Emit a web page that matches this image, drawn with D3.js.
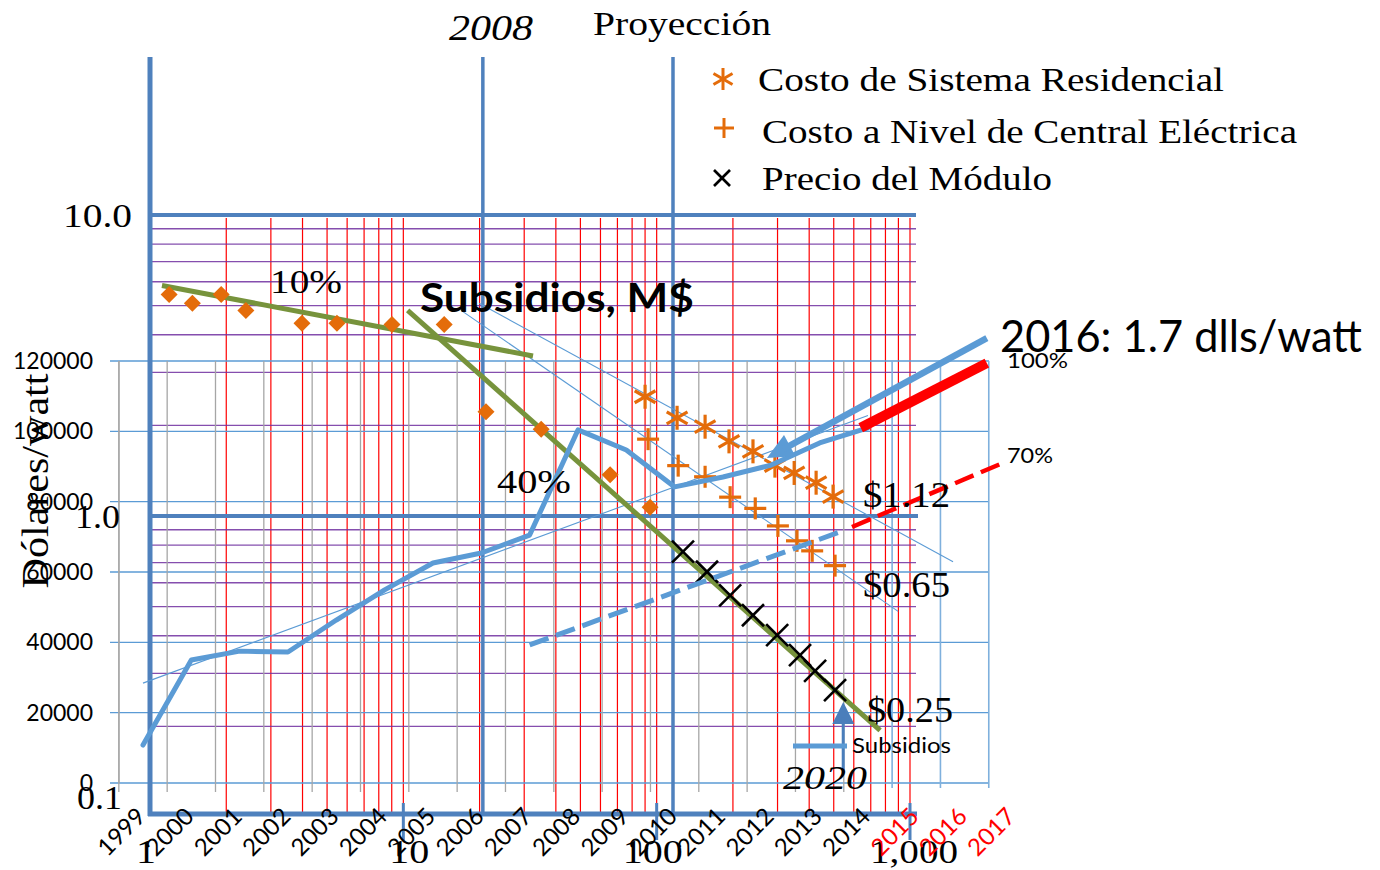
<!DOCTYPE html>
<html lang="es">
  <head>
    <meta charset="utf-8" />
    <script src="https://d3js.org/d3.v7.min.js"></script>
    <style>
      body { margin: 0; background: #fff; }
      svg { display: block; }
    </style>
  </head>
  <body>
    <script>
      // ---------- datos: curva de aprendizaje (log-log) ----------
      // capacidad acumulada (eje x log) y dólares/watt (eje y log)
      var historicoCap = [1.19, 1.47, 1.91, 2.39, 3.98, 5.47, 9.02, 14.5, 21.2, 35.0, 65.5, 94.2];
      var historicoPrecio = [5.44, 5.09, 5.44, 4.82, 4.37, 4.37, 4.33, 4.33, 2.22, 1.94, 1.37, 1.07];
      var residencialCap = [90.0, 120.4, 155.3, 193, 240, 293, 349, 426, 497];
      var residencialCosto = [2.49, 2.12, 1.98, 1.77, 1.64, 1.47, 1.39, 1.29, 1.16];
      var centralCap = [92.5, 121.6, 155.3, 195, 245, 301, 358, 411, 506];
      var centralCosto = [1.8, 1.47, 1.35, 1.155, 1.06, 0.927, 0.827, 0.766, 0.684];
      var moduloCap = [127, 158, 195, 240, 299, 368, 422, 506];
      var moduloPrecio = [0.761, 0.653, 0.545, 0.468, 0.402, 0.345, 0.306, 0.264];

      var logXTicks = [1, 10, 100, 1000];
      var logXLabels = ["1", "10", "100", "1,000"];
      var logYTicks = [0.1, 1, 10];
      var logYLabels = ["0.1", "1.0", "10.0"];

      // rectas de aprendizaje y tendencias (extremos)
      var recta10 = [[1.115, 5.83], [32.5, 3.4]];
      var recta40 = [[10.4, 4.82], [762, 0.194]];
      var tendenciaA = [[19.9, 5.09], [1479, 0.705]];
      var tendenciaB = [[16.9, 4.82], [898, 0.482]];
      var marcaCap = [20.6, 116]; // 2008 y Proyección
      var flecha2020 = [[545, 0.143], [545, 0.241]];

      // ---------- datos: Subsidios, M$ ----------
      var years = d3.range(1999, 2018);
      var subYears = d3.range(1999, 2015);
      var subsidios = [10800, 35000, 37500, 37250, 46350, 54900, 62550, 65400,
                       70500, 100400, 94700, 84200, 87000, 90400, 96700, 101000];
      var subTicks = [0, 20000, 40000, 60000, 80000, 100000, 120000];
      var tendenciaSub = [[1999, 28400], [2014, 104500]];
      var proy70azul = [[2007, 39250], [2013.42, 71400]];
      var proy70rojo = [[2013.67, 72800], [2016.84, 91300]];
      var proy100 = [[2013.85, 101000], [2016.46, 119400]];
      var flecha2016 = [[2016.46, 126500], [2011.91, 92400]];

      var width = 1380,
        height = 870;
      var serif = "'Liberation Serif', 'DejaVu Serif', serif";
      var sans = "Lato, 'Open Sans', sans-serif";

      var svg = d3.select("body").append("svg")
        .attr("width", width)
        .attr("height", height);

      // scales
      var xLog = d3.scaleLog().domain([1, 1000]).range([150, 910]);
      var yLog = d3.scaleLog().domain([0.1, 10]).range([817, 215]);
      var xYear = d3.scaleLinear().domain([1999, 2017]).range([143, 143 + 18 * 48.33]);
      var yVal = d3.scaleLinear().domain([0, 120000]).range([783, 361]);

      function seg(g, x1, y1, x2, y2, color, w) {
        return g.append("line")
          .attr("x1", x1).attr("y1", y1).attr("x2", x2).attr("y2", y2)
          .attr("stroke", color).attr("stroke-width", w);
      }

      function txt(g, s, x, y, o) {
        var t = g.append("text")
          .attr("x", x).attr("y", y)
          .attr("font-family", o.font || serif)
          .attr("font-size", o.size)
          .attr("fill", o.color || "#000")
          .attr("text-anchor", o.anchor || "start")
          .text(s);
        if (o.italic) t.attr("font-style", "italic");
        if (o.bold) t.attr("font-weight", "bold");
        if (o.w) t.attr("textLength", o.w).attr("lengthAdjust", "spacingAndGlyphs");
        if (o.rotate) t.attr("transform", "rotate(" + o.rotate + "," + x + "," + y + ")");
        return t;
      }

      function arrowHead(g, p0, p1, len, wid, color) {
        var dx = p1[0] - p0[0], dy = p1[1] - p0[1];
        var L = Math.sqrt(dx * dx + dy * dy);
        var ux = dx / L, uy = dy / L;
        var bx = p1[0] - ux * len, by = p1[1] - uy * len;
        g.append("path")
          .attr("d", "M" + p1[0] + "," + p1[1] +
            "L" + (bx - uy * wid / 2) + "," + (by + ux * wid / 2) +
            "L" + (bx + uy * wid / 2) + "," + (by - ux * wid / 2) + "Z")
          .attr("fill", color);
        return [p1[0] - ux * len * 0.7, p1[1] - uy * len * 0.7];
      }

      // ---------- malla de la curva log-log ----------
      var grid = svg.append("g");
      var minorX = [];
      [1, 10, 100].forEach(function (d) {
        for (var k = 2; k <= 10; k++) minorX.push(d * k);
      });
      grid.selectAll(".rx").data(minorX).join("line")
        .attr("x1", function (d) { return xLog(d); })
        .attr("x2", function (d) { return xLog(d); })
        .attr("y1", 218).attr("y2", 813)
        .attr("stroke", "#ff0000").attr("stroke-width", 1.2);

      var minorY = [];
      [0.1, 1].forEach(function (d) {
        for (var k = 2; k <= 9; k++) minorY.push(d * k);
      });
      grid.selectAll(".py").data(minorY).join("line")
        .attr("x1", 152).attr("x2", 916)
        .attr("y1", function (d) { return yLog(d); })
        .attr("y2", function (d) { return yLog(d); })
        .attr("stroke", "#7030a0").attr("stroke-width", 1.4).attr("opacity", 0.85);

      // ---------- malla del gráfico de Subsidios ----------
      var eg = svg.append("g");
      eg.selectAll(".hg").data(subTicks).join("line")
        .attr("x1", 110).attr("x2", 989)
        .attr("y1", function (d) { return yVal(d); })
        .attr("y2", function (d) { return yVal(d); })
        .attr("stroke", "#5b9bd5").attr("stroke-width", 1.3);
      eg.selectAll(".vg").data(years).join("line")
        .attr("x1", function (d) { return xYear(d - 0.5); })
        .attr("x2", function (d) { return xYear(d - 0.5); })
        .attr("y1", 361)
        .attr("y2", function (d, i) { return i > 15 ? 788 : 792; })
        .attr("stroke", function (d, i) { return i > 15 ? "#7fb0dd" : "#a6a6a6"; })
        .attr("stroke-width", function (d, i) { return i > 15 ? 1.6 : 1.3; });
      seg(eg, 119, 361, 119, 783, "#a6a6a6", 1.3);
      eg.selectAll(".yl").data(subTicks).join("text")
        .attr("x", 93)
        .attr("y", function (d) { return yVal(d) + 8; })
        .attr("text-anchor", "end")
        .attr("font-family", sans).attr("font-size", 23)
        .text(function (d) { return d; });

      // ---------- marco azul de la curva log-log ----------
      var fr = svg.append("g");
      var frameBlue = "#4f81bd";
      seg(fr, 150, yLog(10), 916, yLog(10), frameBlue, 4);
      seg(fr, 150, yLog(1), 918, yLog(1), frameBlue, 4);
      seg(fr, 150, 57, 150, 816, frameBlue, 5);
      marcaCap.forEach(function (d) {
        seg(fr, xLog(d), 57, xLog(d), 816, frameBlue, 3.5);
      });
      seg(fr, 148, 814, 917, 814, frameBlue, 5);
      logXTicks.slice(1).forEach(function (d) {
        seg(fr, xLog(d), 803, xLog(d), 840, frameBlue, 3);
      });

      // ---------- líneas de tendencia ----------
      var lineLog = d3.line()
        .x(function (d) { return xLog(d[0]); })
        .y(function (d) { return yLog(d[1]); });
      var lineYr = d3.line()
        .x(function (d) { return xYear(d[0]); })
        .y(function (d) { return yVal(d[1]); });

      var tl = svg.append("g").attr("fill", "none");
      [tendenciaA, tendenciaB].forEach(function (d) {
        tl.append("path").attr("d", lineLog(d))
          .attr("stroke", "#5b9bd5").attr("stroke-width", 1.1);
      });
      tl.append("path").attr("d", lineYr(tendenciaSub))
        .attr("stroke", "#5b9bd5").attr("stroke-width", 1.1);

      [recta10, recta40].forEach(function (d) {
        tl.append("path").attr("d", lineLog(d))
          .attr("stroke", "#77933c").attr("stroke-width", 5);
      });

      // ---------- puntos ----------
      var pts = svg.append("g");
      var orange = "#e46c0a";
      pts.selectAll(".dia").data(historicoCap).join("path")
        .attr("d", function (d, i) {
          var x = xLog(d), y = yLog(historicoPrecio[i]), r = 8.5;
          return "M" + x + "," + (y - r) + "L" + (x + r) + "," + y +
            "L" + x + "," + (y + r) + "L" + (x - r) + "," + y + "Z";
        })
        .attr("fill", orange);

      function asterisk(g, x, y, r, color, sw) {
        [90, 30, -30].forEach(function (a) {
          var c = Math.cos(a * Math.PI / 180) * r, s = Math.sin(a * Math.PI / 180) * r;
          seg(g, x - c, y - s, x + c, y + s, color, sw);
        });
      }
      function plus(g, x, y, r, color, sw) {
        seg(g, x - r, y, x + r, y, color, sw);
        seg(g, x, y - r, x, y + r, color, sw);
      }
      function cross(g, x, y, r, color, sw) {
        seg(g, x - r, y - r, x + r, y + r, color, sw);
        seg(g, x - r, y + r, x + r, y - r, color, sw);
      }

      residencialCap.forEach(function (d, i) {
        asterisk(pts, xLog(d), yLog(residencialCosto[i]), 12, orange, 3.2);
      });
      centralCap.forEach(function (d, i) {
        plus(pts, xLog(d), yLog(centralCosto[i]), 11, orange, 3.2);
      });
      moduloCap.forEach(function (d, i) {
        cross(pts, xLog(d), yLog(moduloPrecio[i]), 11, "#000", 2.6);
      });

      // ---------- serie Subsidios y proyecciones ----------
      var sg = svg.append("g").attr("fill", "none");
      sg.append("path")
        .attr("d", d3.line()
          .x(function (d) { return xYear(d); })
          .y(function (d, i) { return yVal(subsidios[i]); })(subYears))
        .attr("stroke", "#5b9bd5").attr("stroke-width", 5)
        .attr("stroke-linejoin", "round").attr("stroke-linecap", "round");
      sg.append("path").attr("d", lineYr(proy70azul))
        .attr("stroke", "#5b9bd5").attr("stroke-width", 5)
        .attr("stroke-dasharray", "20,8");
      sg.append("path").attr("d", lineYr(proy70rojo))
        .attr("stroke", "#ff0000").attr("stroke-width", 4.5)
        .attr("stroke-dasharray", "20,8");
      sg.append("path").attr("d", lineYr(proy100))
        .attr("stroke", "#ff0000").attr("stroke-width", 10);

      var a0 = [xYear(flecha2016[0][0]), yVal(flecha2016[0][1])];
      var a1 = [xYear(flecha2016[1][0]), yVal(flecha2016[1][1])];
      var a1b = arrowHead(svg, a0, a1, 26, 24, "#5b9bd5");
      seg(svg, a0[0], a0[1], a1b[0], a1b[1], "#5b9bd5", 6.5);

      var b0 = [xLog(flecha2020[0][0]), yLog(flecha2020[0][1])];
      var b1 = [xLog(flecha2020[1][0]), yLog(flecha2020[1][1])];
      var b1b = arrowHead(svg, b0, b1, 22, 22, "#4a7ebb");
      seg(svg, b0[0], b0[1], b1b[0], b1b[1], "#4a7ebb", 3);

      // ---------- textos ----------
      var tx = svg.append("g");
      txt(tx, "2008", 449, 40, { size: 36, italic: true, w: 84 });
      txt(tx, "Proyección", 593, 35, { size: 34, w: 178 });

      asterisk(tx, 723, 79, 11, orange, 3);
      plus(tx, 724, 128, 10, orange, 3);
      cross(tx, 722, 178, 8, "#000", 2.6);
      txt(tx, "Costo de Sistema Residencial", 758, 91, { size: 33, w: 466 });
      txt(tx, "Costo a Nivel de Central Eléctrica", 762, 143, { size: 33, w: 535 });
      txt(tx, "Precio del Módulo", 762, 190, { size: 33, w: 290 });

      var logYRight = [122, 120, 132];
      var logYWidth = [45, 45, 69];
      logYTicks.forEach(function (d, i) {
        txt(tx, logYLabels[i], logYRight[i], Math.min(yLog(d), 797) + 12,
          { size: 34, anchor: "end", w: logYWidth[i] });
      });
      var logXWidth = [20, 40, 60, 88];
      logXTicks.forEach(function (d, i) {
        txt(tx, logXLabels[i], xLog(d) + [-4, 6, -4, 4][i], 863,
          { size: 34, anchor: "middle", w: logXWidth[i] });
      });
      txt(tx, "Dólares/watt", 48, 481, { size: 38, anchor: "middle", rotate: -90, w: 215 });

      txt(tx, "10%", 270, 293, { size: 34, w: 72 });
      txt(tx, "40%", 497, 493, { size: 34, w: 74 });
      txt(tx, "Subsidios, M$", 420, 312, { size: 40, font: sans, bold: true, w: 274 });
      txt(tx, "$1.12", 863, 507, { size: 36, w: 87 });
      txt(tx, "$0.65", 863, 597, { size: 36, w: 87 });
      txt(tx, "$0.25", 867, 722, { size: 36, w: 86 });
      txt(tx, "2020", 783, 789, { size: 34, italic: true, w: 84 });

      txt(tx, "2016: 1.7 dlls/watt", 1000, 352, { size: 44, font: sans, w: 362 });
      txt(tx, "100%", 1007, 368, { size: 22, font: sans, w: 61 });
      txt(tx, "70%", 1007, 463, { size: 22, font: sans, w: 46 });

      seg(tx, 793, 746, 847, 746, "#5b9bd5", 5);
      txt(tx, "Subsidios", 852, 753, { size: 22, font: sans, w: 99 });

      years.forEach(function (d) {
        txt(tx, String(d), xYear(d) + 4, 818, {
          size: 24, font: sans, anchor: "end", rotate: -45,
          color: d >= 2015 ? "#ff0000" : "#000"
        });
      });
    </script>
  </body>
</html>
